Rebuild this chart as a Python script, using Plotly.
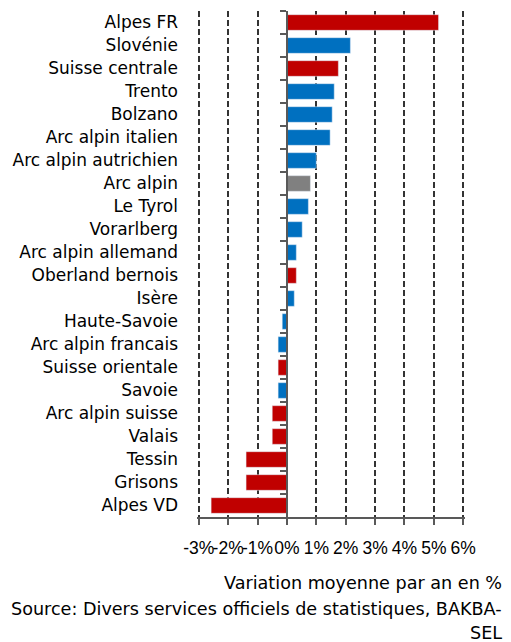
import plotly.graph_objects as go

regions = ["Alpes FR", "Slovénie", "Suisse centrale", "Trento", "Bolzano",
           "Arc alpin italien", "Arc alpin autrichien", "Arc alpin", "Le Tyrol",
           "Vorarlberg", "Arc alpin allemand", "Oberland bernois", "Isère",
           "Haute-Savoie", "Arc alpin francais", "Suisse orientale", "Savoie",
           "Arc alpin suisse", "Valais", "Tessin", "Grisons", "Alpes VD"]
values = [5.16, 2.16, 1.75, 1.61, 1.54, 1.47, 1.0, 0.8, 0.73, 0.52, 0.32, 0.32,
          0.25, -0.16, -0.3, -0.3, -0.3, -0.5, -0.5, -1.39, -1.39, -2.58]
groups = ["ch", "other", "ch", "other", "other", "other", "other", "alps", "other",
          "other", "other", "ch", "other", "other", "other", "ch", "other",
          "ch", "ch", "ch", "ch", "ch"]
group_colors = {"ch": "#C00000", "other": "#0070C0", "alps": "#808080"}
tick_vals = [-3, -2, -1, 0, 1, 2, 3, 4, 5, 6]
tick_text = ["-3%", "-2%", "-1%", "0%", "1%", "2%", "3%", "4%", "5%", "6%"]
note_lines = ["Variation moyenne par an en %",
              "Source: Divers services officiels de statistiques, BAKBA-",
              "SEL"]

FONT = "DejaVu Sans, Verdana, sans-serif"
TICK_FONT = "Liberation Sans, Arial, sans-serif"
colors = [group_colors[g] for g in groups]
# tiny padding so the gridlines at -3% and 6% are drawn inside the plot area
x_range = [tick_vals[0] - 0.06, tick_vals[-1] + 0.06]
zero_pos = (0 - x_range[0]) / (x_range[1] - x_range[0])

fig = go.Figure()
fig.add_trace(go.Bar(x=values, y=regions, orientation="h", marker_color=colors,
                     marker_line_width=0, width=0.68, hoverinfo="x+y"))
# invisible copy on the secondary axis that draws the zero line with ticks
fig.add_trace(go.Bar(x=values, y=regions, orientation="h", yaxis="y2",
                     marker_color="rgba(0,0,0,0)", width=0.68, hoverinfo="skip",
                     showlegend=False))

AX = "#595959"
# the page body adds an 8px margin, so the figure is sized to fit the window
fig.update_layout(
    width=503, height=634,
    margin=dict(l=189, r=46, t=3, b=125, autoexpand=False),
    paper_bgcolor="white", plot_bgcolor="white",
    showlegend=False,
    font=dict(family=FONT, size=17, color="#000000"),
    xaxis=dict(range=x_range, tickvals=tick_vals, ticktext=tick_text, tickangle=0,
               showgrid=True, gridcolor="#333333", griddash="6px,3px", gridwidth=1.6,
               zeroline=False, showline=True, linecolor=AX, linewidth=1.5,
               ticks="outside", ticklen=6, tickcolor=AX, tickwidth=1.5,
               ticklabelstandoff=8,
               tickfont=dict(family=TICK_FONT, size=17.5), automargin=False,
               fixedrange=True),
    yaxis=dict(autorange="reversed", categoryorder="array", categoryarray=regions,
               showgrid=False, zeroline=False, showline=False, ticks="",
               ticklabelstandoff=18, tickfont=dict(size=17), automargin=False),
    yaxis2=dict(overlaying="y", anchor="free", position=zero_pos, side="left",
                autorange="reversed", categoryorder="array", categoryarray=regions,
                showgrid=False, zeroline=False, showline=True, linecolor=AX,
                linewidth=1.5, ticks="outside", tickson="boundaries", ticklen=6,
                tickcolor=AX, tickwidth=1.5, showticklabels=False, automargin=False),
    bargap=0.32,
)

for line, yp in zip(note_lines, [-0.1304, -0.1818, -0.229]):
    fig.add_annotation(
        xref="paper", yref="paper", x=1.146, y=yp, xanchor="right", yanchor="middle",
        align="right", showarrow=False, font=dict(size=17.6, color="#000000"),
        text=line,
    )

fig.write_html("out.html")
